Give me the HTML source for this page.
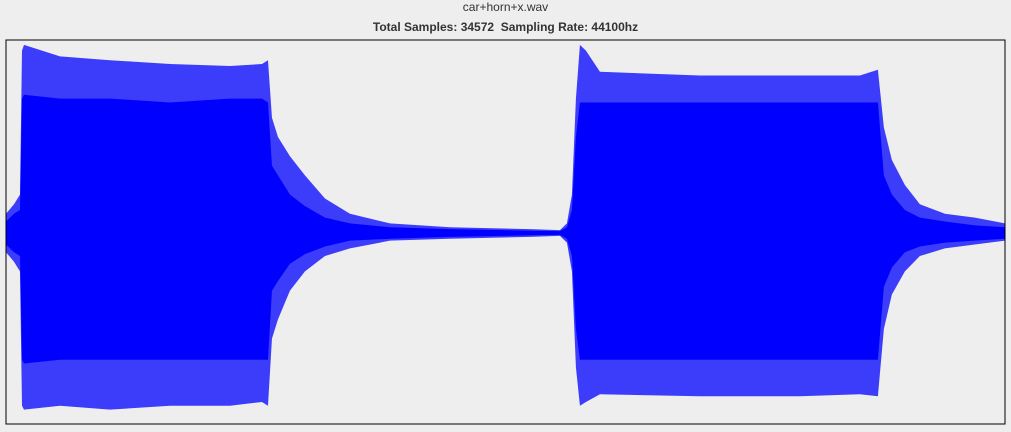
<!DOCTYPE html>
<html><head><meta charset="utf-8"><style>
body{margin:0;background:#eeeeee;width:1011px;height:432px;overflow:hidden;font-family:"Liberation Sans",sans-serif}
.t{position:absolute;left:0;width:1011px;text-align:center;font-size:12px;color:#333}
</style></head><body>
<div class="t" style="top:0px">car+horn+x.wav</div>
<div class="t" style="top:20px;font-weight:bold">Total Samples: 34572&nbsp; Sampling Rate: 44100hz</div>
<svg id="c" width="1011" height="432" style="position:absolute;left:0;top:0"></svg>
<script>
const totalSamples = 34572;
// envelope sample positions
const envSamples = [0,277,484,554,623,1869,3600,5676,7752,8859,9066,9204,9412,9827,10346,11038,11903,13287,15364,18132,19170,19412,19585,19723,19862,20069,20554,24014,27474,29550,30173,30380,30657,31107,31626,32491,33529,34572];
// outer peak envelope (normalized amplitude)
const outerTop = [0.1,0.15,0.2,0.95,0.98,0.92,0.9,0.88,0.87,0.88,0.9,0.6,0.5,0.4,0.3,0.18,0.1,0.05,0.03,0.02,0.015,0.05,0.2,0.7,0.98,0.95,0.84,0.82,0.82,0.82,0.85,0.55,0.38,0.25,0.15,0.1,0.08,0.05];
const outerBottom = [-0.1,-0.15,-0.2,-0.9,-0.92,-0.9,-0.92,-0.9,-0.9,-0.88,-0.9,-0.55,-0.45,-0.3,-0.2,-0.12,-0.08,-0.04,-0.03,-0.02,-0.015,-0.05,-0.2,-0.7,-0.9,-0.88,-0.84,-0.85,-0.85,-0.84,-0.85,-0.5,-0.32,-0.2,-0.12,-0.08,-0.06,-0.04];
// inner dense envelope
const innerTop = [0.06,0.1,0.12,0.7,0.72,0.7,0.7,0.68,0.7,0.7,0.68,0.35,0.3,0.2,0.14,0.08,0.05,0.03,0.02,0.012,0.01,0.03,0.12,0.5,0.68,0.68,0.68,0.68,0.68,0.68,0.68,0.3,0.2,0.12,0.08,0.06,0.04,0.03];
const innerBottom = [-0.06,-0.1,-0.12,-0.66,-0.68,-0.66,-0.66,-0.66,-0.66,-0.66,-0.66,-0.3,-0.25,-0.16,-0.11,-0.07,-0.04,-0.03,-0.02,-0.012,-0.01,-0.03,-0.12,-0.5,-0.66,-0.66,-0.66,-0.66,-0.66,-0.66,-0.66,-0.28,-0.18,-0.1,-0.07,-0.05,-0.04,-0.03];
const L=6,R=1005,T=40,B=424,CY=233,H=192;
const xs=s=>L+s/totalSamples*(R-L);
const ys=a=>CY-a*H;
const svg=document.getElementById('c');
const NS='http://www.w3.org/2000/svg';
function poly(top,bot,op,name){
  let pts=[];
  envSamples.forEach((s,i)=>pts.push(xs(s)+','+ys(top[i])));
  for(let i=envSamples.length-1;i>=0;i--)pts.push(xs(envSamples[i])+','+ys(bot[i]));
  const p=document.createElementNS(NS,'polygon');
  p.setAttribute('points',pts.join(' '));
  p.setAttribute('fill','#0000ff');
  p.setAttribute('fill-opacity',op);
  
  
  svg.appendChild(p);
}
poly(outerTop,outerBottom,0.75,'waveform-peaks');
poly(innerTop,innerBottom,1,'waveform-body');
const fr=document.createElementNS(NS,'rect');
fr.setAttribute('x',L);fr.setAttribute('y',T);fr.setAttribute('width',R-L);fr.setAttribute('height',B-T);
fr.setAttribute('fill','none');fr.setAttribute('stroke','#000');fr.setAttribute('stroke-width','1');


svg.appendChild(fr);
</script>
</body></html>
